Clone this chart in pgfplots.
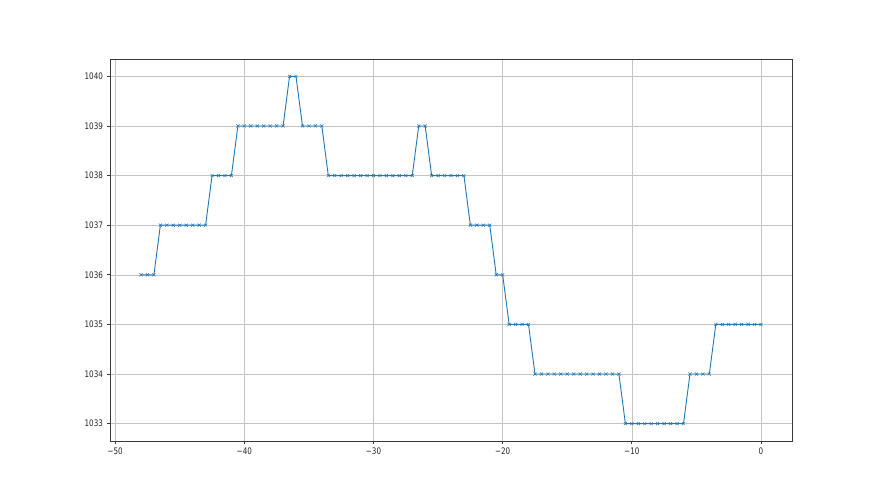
\documentclass[border=0pt]{standalone}
\usepackage{fontspec}
\setmainfont{DejaVu Sans}
\newfontfamily\tickfont[FakeStretch=0.8]{DejaVu Sans}
\usepackage{pgfplots}
\pgfplotsset{compat=1.18}
\definecolor{mplblue}{HTML}{1F77B4}
\definecolor{gridgray}{HTML}{C4C4C4}
\definecolor{spine}{HTML}{3A3A3A}

\pgfplotstableread{
x y
-48 1036
-47.5 1036
-47 1036
-46.5 1037
-46 1037
-45.5 1037
-45 1037
-44.5 1037
-44 1037
-43.5 1037
-43 1037
-42.5 1038
-42 1038
-41.5 1038
-41 1038
-40.5 1039
-40 1039
-39.5 1039
-39 1039
-38.5 1039
-38 1039
-37.5 1039
-37 1039
-36.5 1040
-36 1040
-35.5 1039
-35 1039
-34.5 1039
-34 1039
-33.5 1038
-33 1038
-32.5 1038
-32 1038
-31.5 1038
-31 1038
-30.5 1038
-30 1038
-29.5 1038
-29 1038
-28.5 1038
-28 1038
-27.5 1038
-27 1038
-26.5 1039
-26 1039
-25.5 1038
-25 1038
-24.5 1038
-24 1038
-23.5 1038
-23 1038
-22.5 1037
-22 1037
-21.5 1037
-21 1037
-20.5 1036
-20 1036
-19.5 1035
-19 1035
-18.5 1035
-18 1035
-17.5 1034
-17 1034
-16.5 1034
-16 1034
-15.5 1034
-15 1034
-14.5 1034
-14 1034
-13.5 1034
-13 1034
-12.5 1034
-12 1034
-11.5 1034
-11 1034
-10.5 1033
-10 1033
-9.5 1033
-9 1033
-8.5 1033
-8 1033
-7.5 1033
-7 1033
-6.5 1033
-6 1033
-5.5 1034
-5 1034
-4.5 1034
-4 1034
-3.5 1035
-3 1035
-2.5 1035
-2 1035
-1.5 1035
-1 1035
-0.5 1035
0 1035
}\pressure

\begin{document}
\begin{tikzpicture}[x=1pt,y=1pt]
  \path (0,0) rectangle (880,495);
  \begin{axis}[
      at={(110pt,54pt)},anchor=south west,
      scale only axis,width=682pt,height=382pt,
      xmin=-50.4,xmax=2.4,ymin=1032.65,ymax=1040.35,
      xtick={-50,-40,...,0},ytick={1033,1034,...,1040},
      xticklabels={−50,−40,−30,−20,−10,0},
      tick style={spine,line width=0.7pt},
      tick align=outside,major tick length=3.5pt,
      xtick pos=bottom,ytick pos=left,
      grid=major,
      major grid style={gridgray,line width=0.6pt},
      axis line style={spine,line width=0.8pt},
      tick label style={font=\tickfont\fontsize{9}{11}\selectfont,text=black!85},
      /pgf/number format/assume math mode=true,
      /pgf/number format/1000 sep={},
      scaled ticks=false]
    \addplot[mplblue,line width=0.9pt,mark=x,mark size=2.2pt,
      mark options={line width=0.5pt}] table {\pressure};
  \end{axis}
\end{tikzpicture}
\end{document}
